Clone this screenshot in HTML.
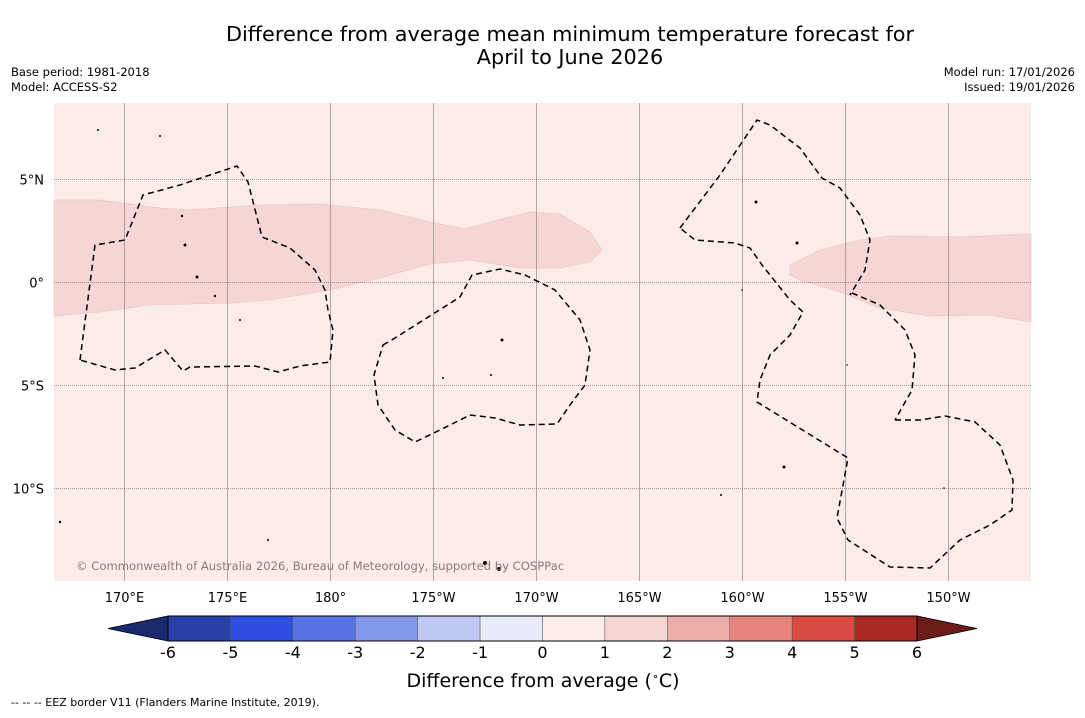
<!DOCTYPE html>
<html><head><meta charset="utf-8"><style>
body{margin:0;width:1085px;height:713px;background:#fff;font-family:"Liberation Sans","DejaVu Sans",sans-serif;overflow:hidden}
</style></head><body>
<svg width="1085" height="713" xmlns="http://www.w3.org/2000/svg" style="font-family:'DejaVu Sans','Liberation Sans',sans-serif">
<text x="570" y="41" font-size="20.8" text-anchor="middle" fill="#000">Difference from average mean minimum temperature forecast for</text>
<text x="570" y="64" font-size="20.8" text-anchor="middle" fill="#000">April to June 2026</text>
<text x="11" y="76" font-size="11.5">Base period: 1981-2018</text>
<text x="11" y="91" font-size="11.5">Model: ACCESS-S2</text>
<text x="1075" y="76" font-size="11.5" text-anchor="end">Model run: 17/01/2026</text>
<text x="1075" y="91" font-size="11.5" text-anchor="end">Issued: 19/01/2026</text>
<g>
<rect x="54" y="103" width="977" height="478" fill="#fbebe9"/>
<path fill="#f5d6d4" stroke="#e8c0bd" stroke-width="0.6" d="M54,200 L100,200 L160,208 L190,210 L260,205 L320,204 L380,210 L430,222 L465,229 L490,222 L530,212 L560,214 L590,232 L602,250 L590,262 L560,268 L520,268 L470,260 L430,264 L380,278 L330,290 L270,300 L230,303 L150,305 L100,312 L54,316 Z"/>
<path fill="#f5d6d4" stroke="#e8c0bd" stroke-width="0.6" d="M790,265 L820,250 L860,240 L890,236 L960,237 L1031,234 L1031,322 L990,315 L930,316 L880,308 L840,292 L800,280 L790,275 Z"/>
<g id="grid"></g>
<g fill="none" stroke="#000" stroke-width="1.5" stroke-dasharray="6,4">
<path d="M80,360 L95,245 L125,240 L143,195 L180,185 L237,166 L248,182 L262,237 L290,248 L315,270 L325,290 L328,310 L333,330 L330,362 L300,366 L278,372 L255,366 L190,367 L183,371 L165,350 L135,368 L115,370 Z"/>
<path d="M383,345 L395,338 L460,297 L472,275 L500,269 L525,275 L555,290 L580,320 L590,350 L585,385 L570,405 L557,424 L520,425 L495,418 L470,415 L440,430 L415,442 L395,430 L378,405 L374,375 Z"/>
<path d="M680,228 L720,175 L757,120 L770,125 L800,148 L822,178 L840,188 L860,215 L870,240 L865,270 L850,295 M852,293 L880,305 L905,330 L915,355 L912,390 L895,420 M895,420 L920,420 L945,416 L975,422 L1000,445 L1013,480 L1012,510 L990,525 L960,540 L930,568 L890,567 L848,540 L837,518 L848,458 L757,402 L760,380 L770,355 L790,335 L803,312 L790,300 L762,265 L750,248 L735,243 L695,240 L680,228"/>
</g>
<g fill="#000">
<circle cx="185" cy="245" r="1.5"/><circle cx="197" cy="277" r="1.5"/><circle cx="215" cy="296" r="1.2"/><circle cx="240" cy="320" r="1"/><circle cx="502" cy="340" r="1.5"/><circle cx="491" cy="375" r="1"/><circle cx="443" cy="378" r="1"/><circle cx="756" cy="202" r="1.5"/><circle cx="797" cy="243" r="1.5"/><circle cx="784" cy="467" r="1.5"/><circle cx="721" cy="495" r="1"/><circle cx="268" cy="540" r="1"/><circle cx="60" cy="522" r="1.2"/><circle cx="485" cy="563" r="2"/><circle cx="499" cy="569" r="2"/><circle cx="160" cy="136" r="1"/><circle cx="98" cy="130" r="1"/><circle cx="182" cy="216" r="1.2"/><circle cx="742" cy="290" r="0.8"/><circle cx="847" cy="365" r="0.8"/><circle cx="944" cy="488" r="0.8"/>
</g>
<text x="76" y="570" font-size="11.6" fill="#8a7a7a">© Commonwealth of Australia 2026, Bureau of Meteorology, supported by COSPPac</text>
</g>
<g id="axes" font-size="13"></g>
<g id="cbar"></g>
<text x="543" y="687" font-size="19" text-anchor="middle">Difference from average (<tspan font-size="11" dy="-7">∘</tspan><tspan dy="7">C)</tspan></text>
<text x="11" y="706" font-size="11">--  --  -- EEZ border V11 (Flanders Marine Institute, 2019).</text>
</svg>
<script>
const lonTicks=[170,175,180,-175,-170,-165,-160,-155,-150];
const lonLabels=["170°E","175°E","180°","175°W","170°W","165°W","160°W","155°W","150°W"];
const latTicks=[5,0,-5,-10];
const latLabels=["5°N","0°","5°S","10°S"];
const cbarValues=[-6,-5,-4,-3,-2,-1,0,1,2,3,4,5,6];
const cbarColors=["#283ea8","#2e4fdf","#5773e2","#8398ea","#c0c9f3","#e8ebfa","#fcecea","#f6d6d4","#ebaea8","#e5857d","#d94b42","#a92a23"];
const ns="http://www.w3.org/2000/svg";
const xLon=l=>{const e=l<0?l+360:l;return 124+(e-170)*20.6;};
const yLat=l=>282-l*20.6;
function mk(t,a){const e=document.createElementNS(ns,t);for(const k in a)e.setAttribute(k,a[k]);return e;}
const grid=document.getElementById('grid'),axes=document.getElementById('axes');
lonTicks.forEach((l,i)=>{const x=Math.round(xLon(l))+0.5;
const g=mk('line',{x1:x,x2:x,y1:103,y2:581,stroke:'#666','stroke-width':0.5});


grid.appendChild(g);
const t=mk('text',{x:x,y:602,'text-anchor':'middle'});t.textContent=lonLabels[i];


axes.appendChild(t);});
latTicks.forEach((l,i)=>{const y=Math.round(yLat(l))+0.5;
const g=mk('line',{x1:54,x2:1031,y1:y,y2:y,stroke:'#444','stroke-width':0.6,'stroke-dasharray':'1,1'});


grid.appendChild(g);
const t=mk('text',{x:44,y:y+5,'text-anchor':'end'});t.textContent=latLabels[i];


axes.appendChild(t);});
const cb=document.getElementById('cbar');
const x0=168,x1=917,y0=616,y1=641,n=cbarColors.length,w=(x1-x0)/n;
const cx=v=>x0+(v-cbarValues[0])*(x1-x0)/(cbarValues[cbarValues.length-1]-cbarValues[0]);
const lt=mk('polygon',{points:`${x0},${y0} ${x0},${y1} 108,${(y0+y1)/2}`,fill:'#1b2a6e',stroke:'#000','stroke-width':0.8});


cb.appendChild(lt);
const rt=mk('polygon',{points:`${x1},${y0} ${x1},${y1} 977,${(y0+y1)/2}`,fill:'#6e1c17',stroke:'#000','stroke-width':0.8});


cb.appendChild(rt);
cbarColors.forEach((c,i)=>{const r=mk('rect',{x:cx(cbarValues[i]),y:y0,width:w,height:y1-y0,fill:c,stroke:'#555','stroke-width':0.5});


cb.appendChild(r);});
const fr=mk('rect',{x:x0,y:y0,width:x1-x0,height:y1-y0,fill:'none',stroke:'#000','stroke-width':1});


cb.appendChild(fr);
cbarValues.forEach(v=>{const t=mk('text',{x:cx(v),y:658,'text-anchor':'middle','font-size':16});t.textContent=v;


cb.appendChild(t);});
</script>
</body></html>
